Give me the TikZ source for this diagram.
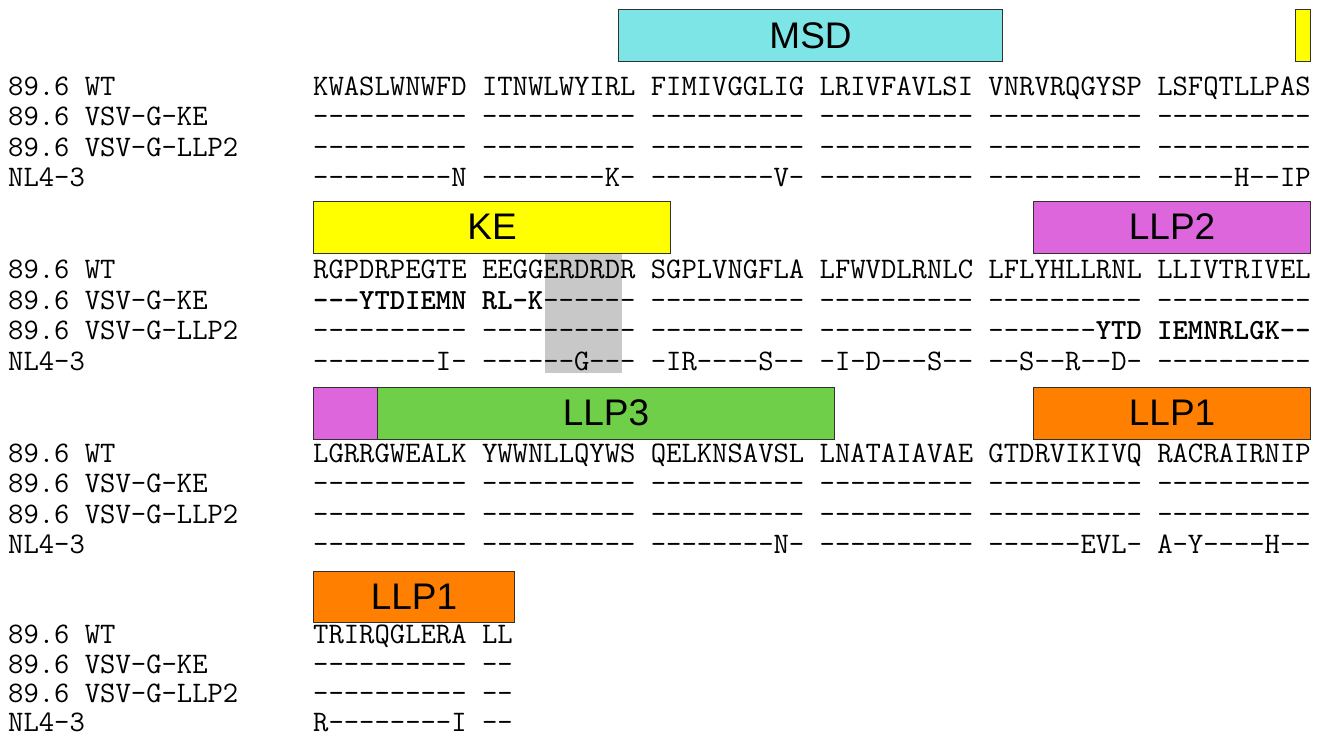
\documentclass[tikz,border=0pt]{standalone}
\usepackage{fontspec}
\newfontfamily\regfont{Liberation Sans}
\newcommand{\bseq}[1]{{\fontsize{29.22}{32}\selectfont\bfseries #1}}
\definecolor{cmsd}{RGB}{125,229,229}
\definecolor{cke}{RGB}{255,255,0}
\definecolor{cllptwo}{RGB}{221,102,221}
\definecolor{cllpthree}{RGB}{111,207,72}
\definecolor{cllpone}{RGB}{255,128,0}
\definecolor{chl}{RGB}{200,200,200}
\definecolor{cedge}{RGB}{50,50,50}
\begin{document}
\begin{tikzpicture}[x=1pt,y=-1pt,
  seq/.style={anchor=base west, inner sep=0pt, text height=17pt, text depth=2pt,
     font=\ttfamily\fontsize{29.8}{32}\selectfont},
  region/.style={draw=cedge, line width=1.1pt, anchor=north west, inner sep=0pt,
     font=\regfont\fontsize{37}{40}\selectfont},
  hlbox/.style={fill=chl, anchor=north west, inner sep=0pt}]
\useasboundingbox (0,0) rectangle (1319,739);
\fill[white] (0,0) rectangle (1319,739);
% highlight
\node[hlbox, minimum width=77pt, minimum height=121pt] (hl) at (545,252) {};
% block 1
\node[region, fill=cmsd, minimum width=384pt, minimum height=52pt] (msd) at (618,9) {MSD};
\node[region, fill=cke, minimum width=15pt, minimum height=52pt] (kesmall) at (1295,9) {};
\node[seq] (l1a) at (8,95) {89.6 WT};
\node[seq] (l1b) at (8,125.5) {89.6 VSV-G-KE};
\node[seq] (l1c) at (8,156) {89.6 VSV-G-LLP2};
\node[seq] (l1d) at (8,186.5) {NL4-3};
\node[seq] (s1a) at (313,95) {KWASLWNWFD ITNWLWYIRL FIMIVGGLIG LRIVFAVLSI VNRVRQGYSP LSFQTLLPAS};
\node[seq] (s1b) at (313,125.5) {---------- ---------- ---------- ---------- ---------- ----------};
\node[seq] (s1c) at (313,156) {---------- ---------- ---------- ---------- ---------- ----------};
\node[seq] (s1d) at (313,186.5) {---------N --------K- --------V- ---------- ---------- -----H--IP};
% block 2
\node[region, fill=cke, minimum width=357pt, minimum height=52pt] (ke) at (313,200.5) {KE};
\node[region, fill=cllptwo, minimum width=277pt, minimum height=52pt] (llp2) at (1033,200.5) {LLP2};
\node[seq] (l2a) at (8,278.5) {89.6 WT};
\node[seq] (l2b) at (8,309) {89.6 VSV-G-KE};
\node[seq] (l2c) at (8,339.5) {89.6 VSV-G-LLP2};
\node[seq] (l2d) at (8,370) {NL4-3};
\node[seq] (s2a) at (313,278.5) {RGPDRPEGTE EEGGERDRDR SGPLVNGFLA LFWVDLRNLC LFLYHLLRNL LLIVTRIVEL};
\node[seq] (s2b) at (313,309) {\bseq{---YTDIEMN RL-K}------ ---------- ---------- ---------- ----------};
\node[seq] (s2c) at (313,339.5) {---------- ---------- ---------- ---------- -------\bseq{YTD IEMNRLGK--}};
\node[seq] (s2d) at (313,370) {--------I- ------G--- -IR----S-- -I-D---S-- --S--R--D- ----------};
% block 3
\node[region, fill=cllptwo, minimum width=64pt, minimum height=52pt] (llp2b) at (313,386.5) {};
\node[region, fill=cllpthree, minimum width=457pt, minimum height=52pt] (llp3) at (377,386.5) {LLP3};
\node[region, fill=cllpone, minimum width=277pt, minimum height=52pt] (llp1) at (1033,386.5) {LLP1};
\node[seq] (l3a) at (8,462) {89.6 WT};
\node[seq] (l3b) at (8,492.5) {89.6 VSV-G-KE};
\node[seq] (l3c) at (8,523) {89.6 VSV-G-LLP2};
\node[seq] (l3d) at (8,553.5) {NL4-3};
\node[seq] (s3a) at (313,462) {LGRRGWEALK YWWNLLQYWS QELKNSAVSL LNATAIAVAE GTDRVIKIVQ RACRAIRNIP};
\node[seq] (s3b) at (313,492.5) {---------- ---------- ---------- ---------- ---------- ----------};
\node[seq] (s3c) at (313,523) {---------- ---------- ---------- ---------- ---------- ----------};
\node[seq] (s3d) at (313,553.5) {---------- ---------- --------N- ---------- ------EVL- A-Y----H--};
% block 4
\node[region, fill=cllpone, minimum width=201pt, minimum height=51pt] (llp1b) at (313,571) {LLP1};
\node[seq] (l4a) at (8,643.5) {89.6 WT};
\node[seq] (l4b) at (8,673) {89.6 VSV-G-KE};
\node[seq] (l4c) at (8,702.5) {89.6 VSV-G-LLP2};
\node[seq] (l4d) at (8,731.5) {NL4-3};
\node[seq] (s4a) at (313,643.5) {TRIRQGLERA LL};
\node[seq] (s4b) at (313,673) {---------- --};
\node[seq] (s4c) at (313,702.5) {---------- --};
\node[seq] (s4d) at (313,731.5) {R--------I --};
\end{tikzpicture}
\end{document}
